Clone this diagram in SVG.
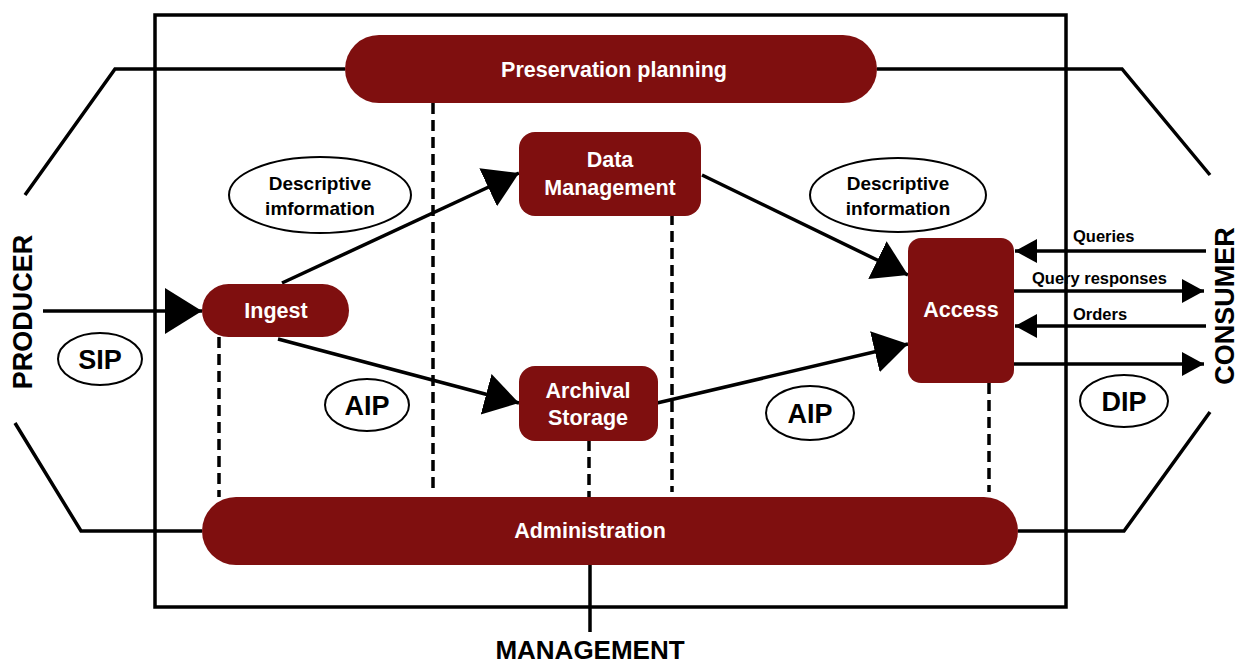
<svg xmlns="http://www.w3.org/2000/svg" width="1244" height="666" viewBox="0 0 1244 666">
<style>
.frame{fill:none;stroke:#000;stroke-width:3.5}
.ln{fill:none;stroke:#000;stroke-width:3.5}
.dash{fill:none;stroke:#000;stroke-width:3.5;stroke-dasharray:11 6}
.node{fill:#7f0f0f}
.nt{font-family:"Liberation Sans",Arial,sans-serif;font-weight:bold;font-size:21.5px;fill:#fff;text-anchor:middle}
.ell{fill:#fff;stroke:#000;stroke-width:2}
.et{font-family:"Liberation Sans",Arial,sans-serif;font-weight:bold;font-size:19px;fill:#000;text-anchor:middle}
.big{font-family:"Liberation Sans",Arial,sans-serif;font-weight:bold;font-size:27px;fill:#000;text-anchor:middle}
.lab{font-family:"Liberation Sans",Arial,sans-serif;font-weight:bold;font-size:16.5px;fill:#000}
</style>
<defs>
<marker id="ah" markerUnits="userSpaceOnUse" markerWidth="36" markerHeight="44" refX="34" refY="21" orient="auto"><path d="M0,0 L34,21 L0,42 z" fill="#000"/></marker>
<marker id="ahp" markerUnits="userSpaceOnUse" markerWidth="40" markerHeight="48" refX="37" refY="23" orient="auto"><path d="M0,0 L37,23 L0,46 z" fill="#000"/></marker>
<marker id="as" markerUnits="userSpaceOnUse" markerWidth="24" markerHeight="26" refX="22" refY="12" orient="auto"><path d="M0,0 L22,12 L0,24 z" fill="#000"/></marker>
</defs>
<rect width="1244" height="666" fill="#fff"/>

<g id="frame">
<rect class="frame" x="155" y="15" width="911" height="592"/>
<polyline class="ln" points="345,69 115,69 25,195"/>
<polyline class="ln" points="15,423 81,531 202,531"/>
<polyline class="ln" points="877,69 1122,69 1210,175"/>
<polyline class="ln" points="1210,412 1124,531 1018,531"/>
<line class="ln" x1="590" y1="565" x2="590" y2="632"/>
</g>

<g id="connectors">
<line class="dash" x1="219" y1="337" x2="219" y2="497"/>
<line class="dash" x1="433" y1="103" x2="433" y2="492"/>
<line class="dash" x1="672" y1="214" x2="672" y2="492"/>
<line class="dash" x1="589" y1="440" x2="589" y2="497"/>
<line class="dash" x1="989" y1="383" x2="989" y2="492"/>
<line class="ln" x1="43" y1="311" x2="202" y2="311" marker-end="url(#ahp)"/>
<line class="ln" x1="282" y1="283" x2="519" y2="173" marker-end="url(#ah)"/>
<line class="ln" x1="278" y1="339" x2="519" y2="403" marker-end="url(#ah)"/>
<line class="ln" x1="702" y1="175" x2="908" y2="275" marker-end="url(#ah)"/>
<line class="ln" x1="657" y1="403" x2="908" y2="344" marker-end="url(#ah)"/>
<line class="ln" x1="1206" y1="251" x2="1015" y2="251" marker-end="url(#as)"/>
<line class="ln" x1="1014" y1="291" x2="1204" y2="291" marker-end="url(#as)"/>
<line class="ln" x1="1206" y1="326" x2="1015" y2="326" marker-end="url(#as)"/>
<line class="ln" x1="1014" y1="364" x2="1204" y2="364" marker-end="url(#as)"/>
<text class="lab" x="1073" y="242">Queries</text>
<text class="lab" x="1032" y="284">Query responses</text>
<text class="lab" x="1073" y="320">Orders</text>
</g>

<g id="preservation-planning">
<rect class="node" x="345" y="35" width="532" height="68" rx="34"/>
<text class="nt" x="614" y="77">Preservation planning</text>
</g>
<g id="data-management">
<rect class="node" x="519" y="132" width="182" height="84" rx="16"/>
<text class="nt" x="610" y="167">Data</text>
<text class="nt" x="610" y="195">Management</text>
</g>
<g id="ingest">
<rect class="node" x="202" y="284" width="147" height="53" rx="26.5"/>
<text class="nt" x="276" y="318">Ingest</text>
</g>
<g id="archival-storage">
<rect class="node" x="519" y="366" width="139" height="75" rx="16"/>
<text class="nt" x="588" y="398">Archival</text>
<text class="nt" x="588" y="425">Storage</text>
</g>
<g id="access">
<rect class="node" x="908" y="238" width="106" height="145" rx="13"/>
<text class="nt" x="961" y="317">Access</text>
</g>
<g id="administration">
<rect class="node" x="202" y="497" width="816" height="68" rx="34"/>
<text class="nt" x="590" y="538">Administration</text>
</g>

<g id="desc-info-left">
<ellipse class="ell" cx="320" cy="195" rx="91" ry="38"/>
<text class="et" x="320" y="190">Descriptive</text>
<text class="et" x="320" y="215">imformation</text>
</g>
<g id="desc-info-right">
<ellipse class="ell" cx="898" cy="195" rx="88" ry="37"/>
<text class="et" x="898" y="190">Descriptive</text>
<text class="et" x="898" y="215">information</text>
</g>
<g id="sip">
<ellipse class="ell" cx="100" cy="359" rx="42" ry="26"/>
<text class="big" x="100" y="369">SIP</text>
</g>
<g id="aip-left">
<ellipse class="ell" cx="367" cy="405" rx="42" ry="26"/>
<text class="big" x="367" y="415">AIP</text>
</g>
<g id="aip-right">
<ellipse class="ell" cx="810" cy="413" rx="44" ry="27"/>
<text class="big" x="810" y="423">AIP</text>
</g>
<g id="dip">
<ellipse class="ell" cx="1124" cy="401" rx="44" ry="26"/>
<text class="big" x="1124" y="411">DIP</text>
</g>

<g id="labels">
<text class="big" transform="translate(32,312) rotate(-90)">PRODUCER</text>
<text class="big" transform="translate(1234,306) rotate(-90)">CONSUMER</text>
<text class="big" x="590" y="659" style="font-size:26px">MANAGEMENT</text>
</g>
</svg>
